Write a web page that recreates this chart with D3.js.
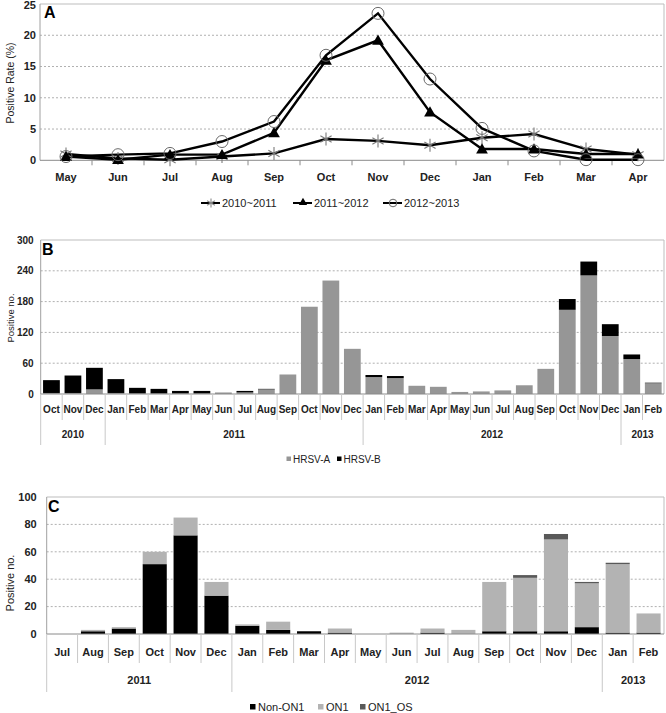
<!DOCTYPE html>
<html><head><meta charset="utf-8">
<script src="https://cdn.jsdelivr.net/npm/d3@7"></script>
<style>body{margin:0;background:#fff}svg{display:block;font-family:"Liberation Sans",Arial,sans-serif}</style>
</head><body>
<svg id="c" width="666" height="713"></svg>
<script>
// ---------- Panel A data ----------
const monthsA = ["May","Jun","Jul","Aug","Sep","Oct","Nov","Dec","Jan","Feb","Mar","Apr"];
const rate2010 = [1.0,0.3,0.1,0.6,1.1,3.4,3.1,2.4,3.6,4.2,1.8,0.9];
const rate2011 = [0.6,0.1,0.9,0.9,4.4,16.0,19.2,7.7,1.8,1.8,1.0,1.0];
const rate2012 = [0.6,0.9,1.1,3.0,6.2,16.8,23.5,13.0,5.1,1.5,0.1,0.1];
const seasonsA = ["2010~2011","2011~2012","2012~2013"];
const ticksA = [0,5,10,15,20,25];

// ---------- Panel B data ----------
const monthsB = ["Oct","Nov","Dec","Jan","Feb","Mar","Apr","May","Jun","Jul","Aug","Sep","Oct","Nov","Dec",
                 "Jan","Feb","Mar","Apr","May","Jun","Jul","Aug","Sep","Oct","Nov","Dec","Jan","Feb"];
const yearsB = [{label:"2010",n:3},{label:"2011",n:12},{label:"2012",n:12},{label:"2013",n:2}];
const hrsvA = [2,2,9,2,1,1,1,1,3,3,9,38,170,221,88,33,31,16,14,4,5,7,17,49,164,231,113,68,21];
const hrsvB = [25,34,42,27,11,9,5,5,0,3,1,0,0,0,0,4,4,0,0,0,0,0,0,0,21,27,23,9,1];
const ticksB = [0,60,120,180,240,300];

// ---------- Panel C data ----------
const monthsC = ["Jul","Aug","Sep","Oct","Nov","Dec","Jan","Feb","Mar","Apr","May","Jun","Jul","Aug","Sep","Oct","Nov","Dec","Jan","Feb"];
const yearsC = [{label:"2011",n:6},{label:"2012",n:12},{label:"2013",n:2}];
const nonON1 = [0,2,4,51,72,28,6,3,2,1,0,0,1,0,2,2,2,5,1,1];
const on1    = [0,1,1,9,13,10,1,6,0,3,0,1,3,3,36,39,67,32,50,14];
const on1OS  = [0,0,0,0,0,0,0,0,0,0,0,0,0,0,0,2,4,1,1,0];
const ticksC = [0,20,40,60,80,100];

const svg = d3.select("#c");
const gridCol = "#b0b0b0", borderCol = "#bdbdbd", sepCol = "#c8c8c8";

function frame(x0,x1,y,ticks,fontSize,labelGap){
  const g = svg.append("g");
  ticks.forEach(t=>{
    if(t===ticks[0]) return;
    const last = t===ticks[ticks.length-1];
    g.append("line").attr("x1",x0).attr("x2",x1).attr("y1",y(t)).attr("y2",y(t))
     .attr("stroke",last?borderCol:gridCol).attr("stroke-width",1)
     .attr("stroke-dasharray",last?null:"2,2");
  });
  g.append("line").attr("x1",x1).attr("x2",x1).attr("y1",y(ticks[ticks.length-1])).attr("y2",y(0)).attr("stroke",borderCol);
  g.append("line").attr("x1",x0).attr("x2",x0).attr("y1",y(ticks[ticks.length-1])).attr("y2",y(0)).attr("stroke","#a0a0a0");
  g.selectAll("text.yt").data(ticks).join("text").attr("class","yt")
   .attr("x",x0-labelGap).attr("y",d=>Math.max(y(d),5.5)).attr("dy","0.35em").attr("text-anchor","end")
   .attr("font-size",fontSize).attr("font-weight","bold").attr("fill","#222").text(d=>d);
  return g;
}

// ================= Panel A =================
(function(){
  const x0=40,x1=664;
  const x = d3.scaleBand().domain(monthsA.map((m,i)=>i)).range([x0,x1]);
  const y = d3.scaleLinear().domain([0,25]).range([160.3,4]);
  frame(x0,x1,y,ticksA,"11px",4);
  svg.append("line").attr("x1",x0).attr("x2",x1).attr("y1",y(0)).attr("y2",y(0)).attr("stroke","#8a8a8a");
  d3.range(1,12).forEach(i=>{
    svg.append("line").attr("x1",x(i)).attr("x2",x(i)).attr("y1",y(0)).attr("y2",y(0)+5).attr("stroke","#8a8a8a");
  });
  svg.selectAll("text.xa").data(monthsA).join("text").attr("class","xa")
    .attr("x",(d,i)=>x(i)+x.bandwidth()/2).attr("y",181).attr("text-anchor","middle")
    .attr("font-size","11px").attr("font-weight","bold").attr("fill","#222").text(d=>d);
  svg.append("text").attr("x",44).attr("y",18).attr("font-size","16px").attr("font-weight","bold").text("A");
  svg.append("text").attr("transform","translate(14,83) rotate(-90)").attr("text-anchor","middle")
    .attr("font-size","10.5px").attr("fill","#222").text("Positive Rate (%)");

  const cx = i=>x(i)+x.bandwidth()/2;
  const line = d3.line().x((d,i)=>cx(i)).y(d=>y(d));
  const series = [rate2010,rate2011,rate2012];
  series.forEach(s=>{
    svg.append("path").datum(s).attr("d",line).attr("fill","none").attr("stroke","#000").attr("stroke-width",2.4);
  });
  const tri = d3.symbol().type(d3.symbolTriangle).size(60);
  function drawStar(px,py,r,col){
    [0,60,120].forEach(a=>{
      const rad=a*Math.PI/180;
      svg.append("line").attr("x1",px-r*Math.sin(rad)).attr("y1",py-r*Math.cos(rad))
        .attr("x2",px+r*Math.sin(rad)).attr("y2",py+r*Math.cos(rad)).attr("stroke",col).attr("stroke-width",1.1);
    });
  }
  function drawMarker(kind,px,py){
    if(kind===0) drawStar(px,py,6.5,"#7a7a7a");
    else if(kind===1) svg.append("path").attr("d",tri).attr("transform",`translate(${px},${py+1})`).attr("fill","#000");
    else svg.append("circle").attr("cx",px).attr("cy",py).attr("r",6).attr("fill","none").attr("stroke","#6a6a6a").attr("stroke-width",1);
  }
  series.forEach((s,k)=>s.forEach((v,i)=>drawMarker(k,cx(i),y(v))));
  // legend
  const lx=[201,293,383], ly=203;
  seasonsA.forEach((t,k)=>{
    svg.append("line").attr("x1",lx[k]).attr("x2",lx[k]+19).attr("y1",ly).attr("y2",ly).attr("stroke","#000").attr("stroke-width",2);
    if(k===0) drawStar(lx[k]+10,ly,4.5,"#8a8a8a");
    else if(k===1) svg.append("path").attr("d",d3.symbol().type(d3.symbolTriangle).size(30)).attr("transform",`translate(${lx[k]+10},${ly-0.5})`).attr("fill","#000");
    else svg.append("circle").attr("cx",lx[k]+10).attr("cy",ly).attr("r",3.8).attr("fill","none").attr("stroke","#6a6a6a");
    svg.append("text").attr("x",lx[k]+21).attr("y",ly).attr("dy","0.35em").attr("font-size","11px").attr("fill","#222").text(t);
  });
})();

// ============ stacked bar panel helper ============
function barPanel(opt){
  const {x0,x1,yBase,yTop,ticks,months,years,series,colors,monthY,yearY,sepBottom,yearBottom,fs,ts,gap} = opt;
  const x = d3.scaleBand().domain(months.map((m,i)=>i)).range([x0,x1]).paddingInner(0.22).paddingOuter(0.11);
  const xs = d3.scaleBand().domain(months.map((m,i)=>i)).range([x0,x1]);
  const y = d3.scaleLinear().domain([0,ticks[ticks.length-1]]).range([yBase,yTop]);
  frame(x0,x1,y,ticks,fs,gap);
  const data = months.map((m,i)=>{const o={i}; series.forEach((s,k)=>o["s"+k]=s[i]); return o;});
  const stack = d3.stack().keys(series.map((s,k)=>"s"+k))(data);
  stack.forEach((layer,k)=>{
    svg.append("g").selectAll("rect").data(layer).join("rect")
      .attr("x",d=>x(d.data.i)).attr("width",x.bandwidth())
      .attr("y",d=>y(d[1])).attr("height",d=>Math.max(0,y(d[0])-y(d[1])))
      .attr("fill",colors[k]);
  });
  svg.append("line").attr("x1",x0).attr("x2",x1).attr("y1",yBase).attr("y2",yBase).attr("stroke","#8a8a8a");
  let yearBounds = new Set([0]); let acc=0;
  years.forEach(yr=>{acc+=yr.n; yearBounds.add(acc);});
  d3.range(0,months.length).forEach(i=>{
    const isYear = yearBounds.has(i);
    svg.append("line").attr("x1",xs(i)).attr("x2",xs(i)).attr("y1",yBase).attr("y2",isYear?yearBottom:sepBottom).attr("stroke",sepCol);
  });
  svg.selectAll(null).data(months).join("text")
    .attr("x",(d,i)=>xs(i)+xs.bandwidth()/2).attr("y",monthY).attr("dy","0.35em").attr("text-anchor","middle")
    .attr("font-size",fs).attr("font-weight","bold").attr("fill","#222").text(d=>d);
  acc=0;
  years.forEach(yr=>{
    const cx = xs(acc) + yr.n*xs.step()/2; acc+=yr.n;
    svg.append("text").attr("x",cx).attr("y",yearY).attr("dy","0.35em").attr("text-anchor","middle")
      .attr("font-size",ts).attr("font-weight","bold").attr("fill","#222").text(yr.label);
  });
  return {x,y};
}

// ================= Panel B =================
barPanel({x0:40.7,x1:664,yBase:394,yTop:240,ticks:ticksB,months:monthsB,years:yearsB,
  series:[hrsvA,hrsvB],colors:["#969696","#000"],monthY:409,yearY:434,sepBottom:420,yearBottom:445,fs:"10px",ts:"10px",gap:7});
svg.append("text").attr("x",42).attr("y",255).attr("font-size","16px").attr("font-weight","bold").text("B");
svg.append("text").attr("transform","translate(14,318) rotate(-90)").attr("text-anchor","middle")
  .attr("font-size","9.5px").attr("fill","#222").text("Positive no.");
[["HRSV-A","#969696",286.5],["HRSV-B","#000",337]].forEach(([t,c,lx])=>{
  svg.append("rect").attr("x",lx).attr("y",456.5).attr("width",4.5).attr("height",4.5).attr("fill",c);
  svg.append("text").attr("x",lx+6.5).attr("y",459).attr("dy","0.35em").attr("font-size","10px").attr("fill","#222").text(t);
});

// ================= Panel C =================
barPanel({x0:46.7,x1:664,yBase:634,yTop:497,ticks:ticksC,months:monthsC,years:yearsC,
  series:[nonON1,on1,on1OS],colors:["#000","#b3b3b3","#595959"],monthY:652,yearY:680,sepBottom:663,yearBottom:692,fs:"11px",ts:"11px",gap:10});
svg.append("text").attr("x",48).attr("y",512).attr("font-size","16px").attr("font-weight","bold").text("C");
svg.append("text").attr("transform","translate(14,583) rotate(-90)").attr("text-anchor","middle")
  .attr("font-size","11px").attr("fill","#222").text("Positive no.");
[["Non-ON1","#000",250],["ON1","#b3b3b3",318],["ON1_OS","#595959",360]].forEach(([t,c,lx])=>{
  svg.append("rect").attr("x",lx).attr("y",704).attr("width",5.5).attr("height",5.5).attr("fill",c);
  svg.append("text").attr("x",lx+8).attr("y",707).attr("dy","0.35em").attr("font-size","11px").attr("fill","#222").text(t);
});
</script>
</body></html>
